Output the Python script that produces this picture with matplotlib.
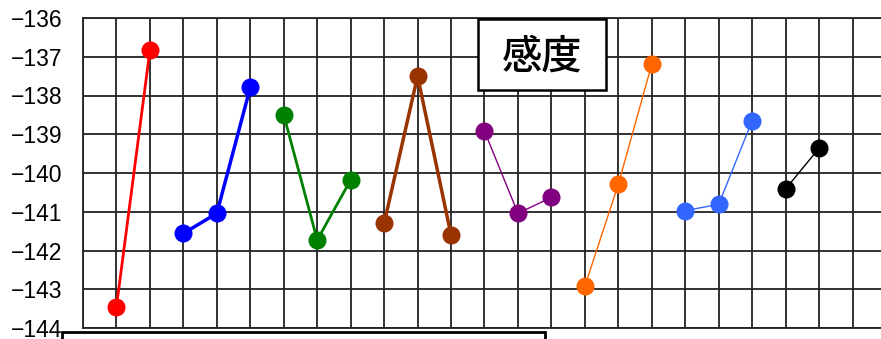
import matplotlib.pyplot as plt
from matplotlib.patches import Rectangle

# grouped series: x positions and values
red_x = [1, 2]
red_y = [-143.45, -136.83]
blue_x = [3, 4, 5]
blue_y = [-141.56, -141.04, -137.79]
green_x = [6, 7, 8]
green_y = [-138.5, -141.73, -140.18]
brown_x = [9, 10, 11]
brown_y = [-141.3, -137.5, -141.6]
purple_x = [12, 13, 14]
purple_y = [-138.92, -141.04, -140.63]
orange_x = [15, 16, 17]
orange_y = [-142.92, -140.29, -137.19]
lblue_x = [18, 19, 20]
lblue_y = [-140.97, -140.81, -138.65]
black_x = [21, 22]
black_y = [-140.41, -139.36]

y_ticks = [-144, -143, -142, -141, -140, -139, -138, -137, -136]
title_text = "感度"

series = [
    (red_x, red_y, "#FF0000", 2.0),
    (blue_x, blue_y, "#0000FF", 2.5),
    (green_x, green_y, "#008000", 2.0),
    (brown_x, brown_y, "#993300", 2.5),
    (purple_x, purple_y, "#800080", 1.0),
    (orange_x, orange_y, "#FF6600", 1.0),
    (lblue_x, lblue_y, "#3366FF", 1.0),
    (black_x, black_y, "#000000", 1.0),
]

plt.rcParams['font.family'] = ['Liberation Sans', 'Noto Sans CJK JP', 'DejaVu Sans']

fig = plt.figure(figsize=(8.81, 3.39), dpi=100)
ax = fig.add_axes([83 / 881, 11 / 339, 803 / 881, 310 / 339])

for xs, ys, col, lw in series:
    ax.plot(xs, ys, color=col, linewidth=lw, marker="o", markersize=13,
            markeredgewidth=0, zorder=3)

ax.set_xlim(0, 24)
ax.set_ylim(-144, -136)
ax.set_xticks(range(0, 25))
ax.set_yticks(y_ticks)
ax.set_yticklabels([f"\u2212{abs(v)}" for v in y_ticks], fontsize=16.5)
ax.tick_params(axis="x", labelbottom=False, length=0)
ax.tick_params(axis="y", length=0, pad=15)
ax.grid(True, color="#222222", linewidth=1.3)
ax.set_axisbelow(True)
for sp in ax.spines.values():
    sp.set_color("#222222")
    sp.set_linewidth(1.3)

# title box
fig.patches.append(Rectangle((478 / 881, 1 - 90 / 339), 128 / 881, 71 / 339,
                             transform=fig.transFigure, facecolor="white",
                             edgecolor="black", linewidth=1.8, zorder=5))
fig.text(542 / 881, 1 - 57 / 339, title_text, fontsize=29, ha="center",
         va="center", zorder=6, family=['Noto Sans CJK JP', 'DejaVu Sans'],
         fontweight="medium")

# box at the bottom, cut off by the image edge
fig.patches.append(Rectangle((62 / 881, -0.1), (545 - 62) / 881, 0.1 + 7.5 / 339,
                             transform=fig.transFigure, facecolor="white",
                             edgecolor="black", linewidth=2, zorder=10))

fig.savefig("out.png", dpi=100)
